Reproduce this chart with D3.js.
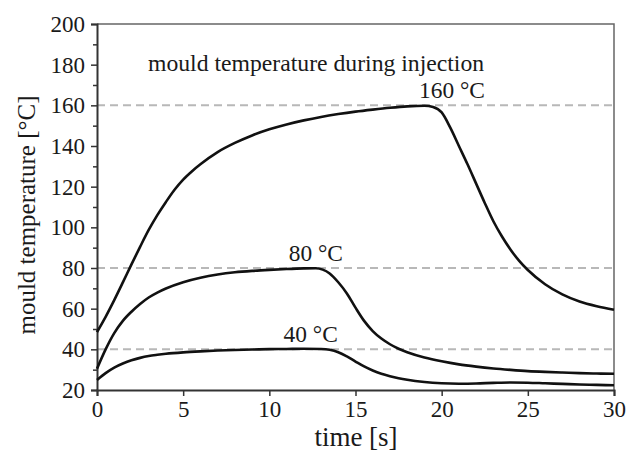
<!DOCTYPE html>
<html>
<head>
<meta charset="utf-8">
<script src="https://cdn.jsdelivr.net/npm/d3@7"></script>
<style>
  html, body { margin: 0; padding: 0; background: #fff; }
  svg text { font-family: "Liberation Serif", "Times New Roman", serif; fill: #1a1a1a; }
</style>
</head>
<body>
<svg id="chart" width="638" height="457"></svg>
<script>
// ---- data ----
const time160 = [0, 0.5, 1, 1.5, 2, 2.5, 3, 3.5, 4, 4.5, 5, 5.5, 6, 7, 8, 9, 10, 11, 12, 13, 14, 15, 16, 17, 18, 19, 19.5, 20, 20.5, 21, 21.5, 22, 22.5, 23, 23.5, 24, 24.5, 25, 26, 27, 28, 29, 30];
const temp160 = [48.5, 56, 64.2, 72.9, 81.8, 90.4, 98.7, 106, 112.5, 118.5, 123.5, 127.5, 131, 137, 141.5, 145.2, 148.2, 150.6, 152.6, 154.3, 155.7, 156.9, 157.9, 158.8, 159.5, 159.8, 159.2, 156.5, 149, 140, 131, 121.5, 112, 103, 95.5, 89, 83.5, 79, 72, 67, 63.5, 61.2, 59.5];

const time80 = [0, 0.5, 1, 1.5, 2, 2.5, 3, 3.5, 4, 5, 6, 7, 8, 9, 10, 11, 12, 12.7, 13.1, 13.5, 14, 14.5, 15, 15.5, 16, 16.5, 17, 17.5, 18, 19, 20, 21, 22, 23, 24, 25, 26, 27, 28, 29, 30];
const temp80 = [30.5, 40, 48, 54, 58.5, 62.3, 65.5, 67.9, 69.9, 73, 75.2, 76.8, 77.9, 78.6, 79.1, 79.5, 79.8, 79.9, 79.2, 77.3, 73, 67.5, 60.5, 54, 49, 45.3, 42.5, 40.3, 38.6, 36, 34.1, 32.6, 31.5, 30.6, 29.9, 29.3, 28.9, 28.6, 28.3, 28.1, 28];

const time40 = [0, 0.5, 1, 1.5, 2, 2.5, 3, 3.5, 4, 5, 6, 7, 8, 9, 10, 11, 12, 13, 13.5, 14, 14.5, 15, 15.5, 16, 16.5, 17, 17.5, 18, 19, 20, 21, 22, 23, 24, 25, 26, 27, 28, 29, 30];
const temp40 = [24.9, 28.3, 31, 33, 34.6, 35.8, 36.7, 37.3, 37.8, 38.5, 39, 39.4, 39.7, 39.9, 40.1, 40.2, 40.3, 40.2, 39.8, 38.6, 36.5, 34, 31.6, 29.6, 28, 26.8, 25.8, 25, 23.9, 23.3, 23.1, 23.2, 23.5, 23.7, 23.6, 23.3, 23, 22.7, 22.5, 22.3];

const setpoints = [40, 80, 160];
const setpointLabels = ["40 °C", "80 °C", "160 °C"];
const setpointLabelTimes = [12.4, 12.7, 20.6];

const xTicks = [0, 5, 10, 15, 20, 25, 30];
const yTicks = [20, 40, 60, 80, 100, 120, 140, 160, 180, 200];
const yMinorTicks = [30, 50, 70, 90, 110, 130, 150, 170, 190];

const titleText = "mould temperature during injection";
const xLabel = "time [s]";
const yLabel = "mould temperature [°C]";

// ---- layout ----
const W = 638, H = 457;
const m = { left: 97, right: 24, top: 24, bottom: 67 };
const svg = d3.select("#chart");

const x = d3.scaleLinear().domain([0, 30]).range([m.left, W - m.right]);
const y = d3.scaleLinear().domain([20, 200]).range([H - m.bottom, m.top]);

// frame (top/right)
svg.append("path")
  .attr("d", `M${x(0)},${y(200)}H${x(30)}V${y(20)}`)
  .attr("fill", "none").attr("stroke", "#666").attr("stroke-width", 1.5);

// dashed setpoint lines
svg.append("g").selectAll("line").data(setpoints).join("line")
  .attr("x1", x(0)).attr("x2", x(30))
  .attr("y1", d => y(d)).attr("y2", d => y(d))
  .attr("stroke", "#b8b8b8").attr("stroke-width", 2)
  .attr("stroke-dasharray", "8,5");

// axes
const xAxis = svg.append("g").attr("transform", `translate(0,${y(20)})`)
  .call(d3.axisBottom(x).tickValues(xTicks).tickSize(6).tickPadding(5).tickFormat(d3.format("d")));
const yAxis = svg.append("g").attr("transform", `translate(${x(0)},0)`)
  .call(d3.axisLeft(y).tickValues(yTicks).tickSize(6).tickPadding(6).tickFormat(d3.format("d")));
svg.append("g").attr("transform", `translate(${x(0)},0)`)
  .call(d3.axisLeft(y).tickValues(yMinorTicks).tickSize(4).tickFormat(""))
  .call(g => g.select(".domain").remove());

svg.selectAll(".domain").attr("stroke", "#333").attr("stroke-width", 2);
svg.selectAll(".tick line").attr("stroke", "#333").attr("stroke-width", 1.5);
xAxis.selectAll("text").attr("font-size", 23).attr("fill", "#1a1a1a");
yAxis.selectAll("text").attr("font-size", 23).attr("fill", "#1a1a1a");

// curves
const line = d3.line().x(d => x(d[0])).y(d => y(d[1])).curve(d3.curveMonotoneX);
const series = [
  d3.zip(time160, temp160),
  d3.zip(time80, temp80),
  d3.zip(time40, temp40)
];
svg.append("g").selectAll("path").data(series).join("path")
  .attr("d", line)
  .attr("fill", "none").attr("stroke", "#111").attr("stroke-width", 2.6)
  .attr("stroke-linejoin", "round");

// setpoint labels
svg.append("g").selectAll("text").data(setpoints).join("text")
  .attr("x", (d, i) => x(setpointLabelTimes[i]))
  .attr("y", d => y(d) - 7)
  .attr("text-anchor", "middle")
  .attr("font-size", 23.4)
  .text((d, i) => setpointLabels[i]);

// title
svg.append("text").attr("x", 148).attr("y", 71)
  .attr("font-size", 23.7).text(titleText);

// axis labels
svg.append("text").attr("x", 356).attr("y", 446)
  .attr("text-anchor", "middle").attr("font-size", 27).text(xLabel);
svg.append("text")
  .attr("transform", `translate(35,215) rotate(-90)`)
  .attr("text-anchor", "middle").attr("font-size", 25).text(yLabel);
</script>
</body>
</html>
